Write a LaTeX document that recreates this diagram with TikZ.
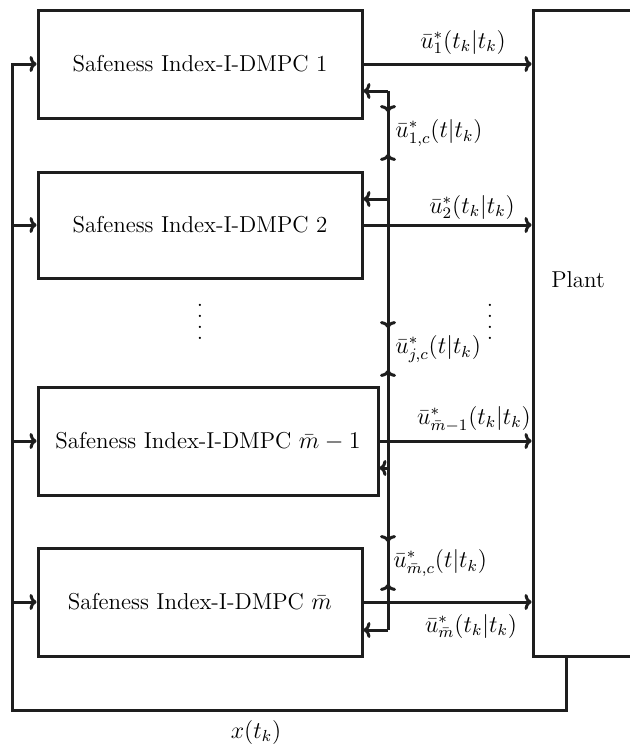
\documentclass[tikz,border=0pt]{standalone}
\usepackage{amsmath}
\usepackage{xcolor}
\usepackage{tikz}
\usetikzlibrary{arrows.meta,positioning,calc}
\definecolor{lineDark}{RGB}{30,30,30}
\tikzset{
  dmpcbox/.style={
    rectangle, draw=lineDark, line width=1.5pt, inner sep=0pt,
    minimum width=162pt, minimum height=54pt, font=\fontsize{11.5}{14}\selectfont
  },
  plantbox/.style={rectangle, draw=lineDark, line width=1.5pt, inner sep=0pt},
  sigLabel/.style={font=\fontsize{11.5}{14}\selectfont, inner sep=1pt},
  busLabel/.style={sigLabel, anchor=west, inner xsep=1pt, inner ysep=3.5pt},
  dotsLabel/.style={align=center, inner sep=0pt, font=\fontsize{11.5}{5.5}\selectfont},
  sigLine/.style={line width=1.5pt, color=lineDark},
  sigArrow/.style={sigLine, -{To[length=3.5pt,width=8pt]}}
}

\begin{document}
\begin{tikzpicture}[x=0.5pt, y=-0.5pt]
        \useasboundingbox (0,0) rectangle (629,744);
        \node[dmpcbox] (b1) at (200,64) {Safeness Index-I-DMPC 1};
        \node[dmpcbox, minimum height=53pt] (b2) at (200,225) {Safeness Index-I-DMPC 2};
        \node[dmpcbox, minimum width=170pt] (b3) at (208,441)
          {Safeness Index-I-DMPC $\bar{m}-1$};
        \node[dmpcbox] (b4) at (200,602) {Safeness Index-I-DMPC $\bar{m}$};
        \node[plantbox, minimum width=50.5pt, minimum height=323pt] (plant) at (583.5,333) {};
        \node[sigLabel] (plantlbl) at (578,280) {Plant};
        \node[dotsLabel] (dotsl) at (200,322) {.\\.\\.\\.};
        \node[dotsLabel] (dotsr) at (490,322) {.\\.\\.\\.};

        \foreach \b in {b1,b2,b3,b4}
          \draw[sigArrow] (\b.east) -- (\b.east -| plant.west);
        \node[sigLabel] (u1) at (463,42) {$\bar{u}_1^*(t_k|t_k)$};
        \node[sigLabel] (u2) at (472,207) {$\bar{u}_2^*(t_k|t_k)$};
        \node[sigLabel] (um1) at (474,419) {$\bar{u}_{\bar{m}-1}^*(t_k|t_k)$};
        \node[sigLabel] (um) at (471,626) {$\bar{u}_{\bar{m}}^*(t_k|t_k)$};

        \coordinate (bus1) at (388,91);
        \coordinate (bus2) at (388,199);
        \coordinate (bus3) at (388,468);
        \coordinate (bus4) at (388,630);
        \draw[sigLine] (bus1) -- (bus4);
        \foreach \i/\b in {1/b1,2/b2,3/b3,4/b4}
          \draw[sigArrow] (bus\i) -- (bus\i -| \b.east);
        \node[busLabel] (uc1) at (393,133) {$\bar{u}_{1,c}^*(t|t_k)$};
        \node[busLabel] (ucj) at (393,349) {$\bar{u}_{j,c}^*(t|t_k)$};
        \node[busLabel] (ucm) at (391,563) {$\bar{u}_{\bar{m},c}^*(t|t_k)$};
        \draw[sigArrow] (bus1) -- (bus1 |- uc1.north);
        \draw[sigArrow] (bus2) -- (bus2 |- uc1.south);
        \draw[sigArrow] (bus2) -- (bus2 |- ucj.north);
        \draw[sigArrow] (bus3) -- (bus3 |- ucj.south);
        \draw[sigArrow] (bus3) -- (bus3 |- ucm.north);
        \draw[sigArrow] (bus4) -- (bus4 |- ucm.south);

        \coordinate (fbr) at (566,710);
        \coordinate (fbl) at (12,710);
        \draw[sigArrow] (fbr |- plant.south) -- (fbr) -- (fbl) -- (fbl |- b1.west) -- (b1.west);
        \foreach \b in {b2,b3,b4}
          \draw[sigArrow] (fbl |- \b.west) -- (\b.west);
        \node[sigLabel] (xlbl) at (256,732) {$x(t_k)$};
      \end{tikzpicture}
\end{document}
